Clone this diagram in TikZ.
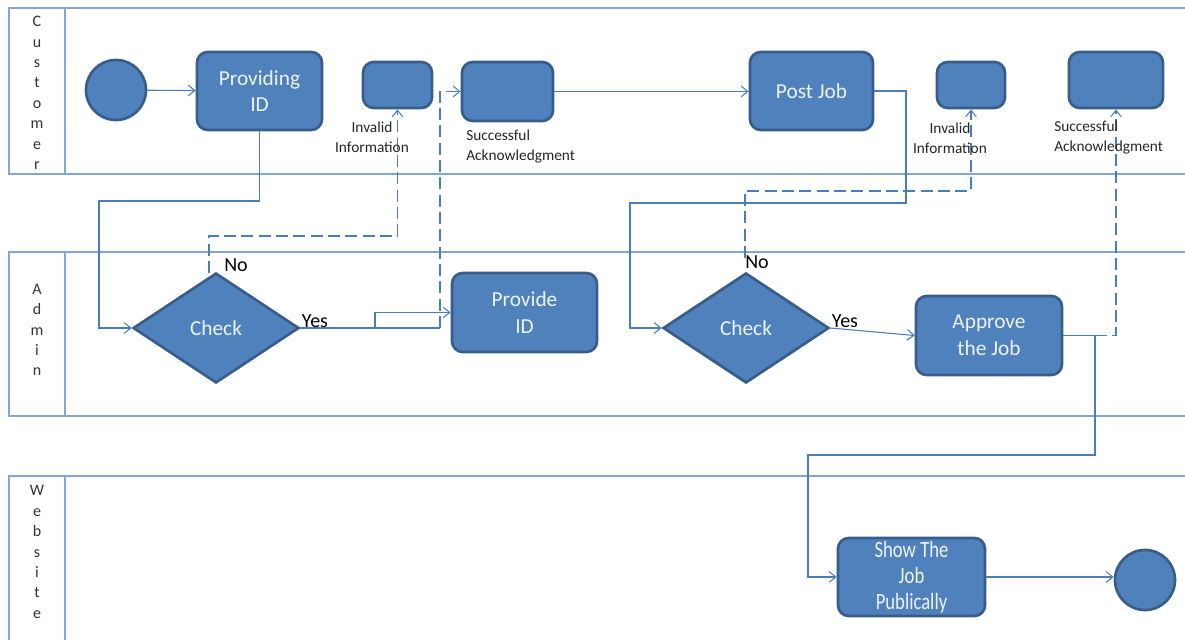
\documentclass[tikz,border=0pt]{standalone}
\usepackage{fontspec}
\setmainfont{Carlito}
\usetikzlibrary{shapes.geometric,arrows.meta,fit}
\definecolor{boxfill}{HTML}{4F81BD}
\definecolor{boxline}{HTML}{385D8A}
\definecolor{laneline}{HTML}{84A6D0}
\definecolor{conn}{HTML}{4A7EBB}
\definecolor{boxtext}{HTML}{EEF3F9}
\begin{document}
\begin{tikzpicture}[x=0.75pt,y=-0.75pt,
  act/.style={draw=boxline, line width=2pt, fill=boxfill, rounded corners=8pt, inner sep=0pt,
    text=boxtext, font=\fontsize{16}{20}\selectfont, align=center},
  startend/.style={circle, draw=boxline, line width=2pt, fill=boxfill, minimum size=45pt, inner sep=0pt},
  decision/.style={diamond, draw=boxline, line width=2pt, fill=boxfill, minimum width=124.5pt,
    minimum height=82.5pt, inner sep=0pt, text=boxtext, font=\fontsize{16}{20}\selectfont},
  lab/.style={font=\fontsize{11.5}{15}\selectfont, inner sep=0pt, text=black!85},
  yn/.style={font=\fontsize{15}{18}\selectfont, inner sep=0pt, text=black},
  lanetxt/.style={font=\fontsize{12}{15.3}\selectfont, align=center, inner sep=0pt, text=black!80},
  lane/.style={draw=laneline, line width=1.2pt},
  wire/.style={draw=conn, line width=0.8pt},
  flow/.style={wire, -{Straight Barb[length=5pt,width=8pt]}},
  dflow/.style={flow, dash pattern=on 9pt off 4pt},
  dwire/.style={wire, dash pattern=on 9pt off 4pt}
]
\useasboundingbox (0,0) rectangle (1185,639);
\clip (0,0) rectangle (1185,639);
\fill[white] (0,0) rectangle (1185,639);

% lanes
\draw[lane] (1195,8) -- (9,8) -- (9,174) -- (1195,174);
\draw[lane] (65,8) -- (65,174);
\draw[lane] (1195,252) -- (9,252) -- (9,416) -- (1195,416);
\draw[lane] (65,252) -- (65,416);
\draw[lane] (1195,476) -- (9,476) -- (9,650);
\draw[lane] (65,476) -- (65,650);
\node[lanetxt] (lc) at (37,93) {C\\u\\s\\t\\o\\m\\e\\r};
\node[lanetxt] (la) at (37,330) {A\\d\\m\\i\\n};
\node[lanetxt] (lw) at (37,552) {W\\e\\b\\s\\i\\t\\e};

% customer nodes
\node[startend] (start) at (116,90) {};
\node[act, fit={(197,52) (322,130)}] (provid) {};
\node[act, draw=none, fill=none] at (provid.center) {Providing\\ID};
\node[act, fit={(363,62) (432,108)}] (inv1) {};
\node[act, fit={(462,62) (553,121)}] (suc1) {};
\node[act, fit={(750,52) (873,130)}] (post) {};
\node[act, draw=none, fill=none] at (post.center) {Post Job};
\node[act, fit={(937,62) (1005,108)}] (inv2) {};
\node[act, fit={(1069,52) (1163,108)}] (suc2) {};

% admin nodes
\node[decision] (check1) at (216,328) {Check};
\node[act, fit={(452,273) (597,352)}] (provide) {};
\node[act, draw=none, fill=none] at (provide.center) {Provide\\ID};
\node[decision] (check2) at (746,328) {Check};
\node[act, fit={(916,296) (1062,375)}] (approve) {};
\node[act, draw=none, fill=none] at (approve.center) {Approve\\the Job};

% website nodes
\node[act, fit={(838,538) (985,616)}] (show) {};
\node[act, draw=none, fill=none, font=\fontsize{17.5}{19.5}\selectfont, xscale=0.8, transform shape] at (show.center) {Show The\\Job\\Publically};
\node[startend] (end) at (1145,580) {};

% connectors
\draw[flow] (start) -- (provid);
\draw[flow] (provid.south) |- (99,201) |- (check1.west);
\draw[dflow] (209,273) -- (209,236) -| (inv1.south);
\draw[wire] (check1.east) -- (440,328);
\draw[flow] (375,328) |- (provide.west);
\draw[dflow] (440,328) |- (suc1.west);
\draw[flow] (suc1.east) -- (suc1.east -| post.west);
\draw[flow] (post.east) -- (906,91) -- (906,203) -- (630,203) |- (check2.west);
\draw[dflow] (745,258) -- (745,191) -| (inv2.south);
\draw[flow] (check2.east) -- (approve.west);
\draw[wire] (approve.east) -- (1095,335.5);
\draw[dflow] (1095,335.5) -| (suc2.south);
\draw[flow] (1095,335.5) -- (1095,455) -- (808,455) |- (show.west);
\draw[flow] (show.east) -- (show.east -| end.west);

% labels
\node[lab, align=center] (l1) at (372,137) {Invalid\\Information};
\node[lab, align=left, anchor=west] (l2) at (466,146) {Successful\\Acknowledgment};
\node[lab, align=center] (l3) at (950,138) {Invalid\\Information};
\node[lab, align=left, anchor=west] (l4) at (1054,137) {Successful\\Acknowledgment};
\node[yn] (no1) at (236,265) {No};
\node[yn] (yes1) at (315,321) {Yes};
\node[yn] (no2) at (757,262) {No};
\node[yn] (yes2) at (845,321) {Yes};
\end{tikzpicture}
\end{document}
